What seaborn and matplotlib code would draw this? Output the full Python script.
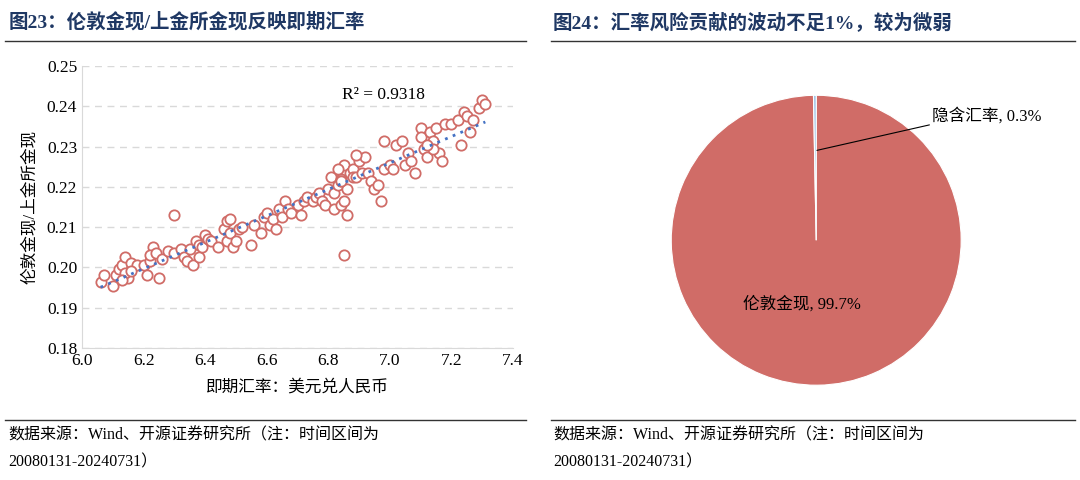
import numpy as np
import pandas as pd
import matplotlib
matplotlib.use("Agg")
import matplotlib.pyplot as plt
import seaborn as sns
from matplotlib.lines import Line2D

FONT = ["Liberation Serif", "Noto Sans CJK SC"]
plt.rcParams["font.family"] = FONT

# spot FX rate USD/CNY vs London gold / SGE gold ratio
fx = [6.06, 6.07, 6.10, 6.11, 6.12, 6.13, 6.14, 6.15, 6.14, 6.16, 6.18, 6.16, 6.13,
      6.20, 6.21, 6.22, 6.23, 6.22, 6.24, 6.25, 6.26, 6.28, 6.30, 6.30, 6.32, 6.33, 6.34,
      6.35, 6.36, 6.37, 6.38, 6.38, 6.39, 6.40, 6.41,
      6.42, 6.44, 6.46, 6.47, 6.47, 6.48, 6.48, 6.49, 6.50, 6.51, 6.52, 6.55, 6.56, 6.58,
      6.59, 6.60, 6.61, 6.62, 6.63, 6.64, 6.65,
      6.66, 6.67, 6.68, 6.70, 6.71, 6.72, 6.73, 6.75, 6.76, 6.77, 6.78, 6.79, 6.80, 6.81,
      6.82, 6.82, 6.83, 6.84, 6.84, 6.84, 6.85, 6.85, 6.86, 6.86, 6.87, 6.88, 6.85,
      6.83, 6.84, 6.88, 6.89, 6.90, 6.91, 6.92, 6.93, 6.94, 6.95, 6.96, 6.97, 6.98, 7.00,
      7.01, 7.02, 7.04, 7.05, 7.06, 7.07, 7.08, 6.89, 6.98,
      7.10, 7.10, 7.11, 7.12, 7.13, 7.14, 7.15, 7.16, 7.17, 7.18, 7.20, 7.22, 7.23, 7.24,
      7.25, 7.26, 7.27, 7.29, 7.30, 7.31, 7.14, 7.12]
ratio = [0.1965, 0.198, 0.1955, 0.198, 0.1995, 0.2005, 0.2025, 0.1975, 0.1985, 0.201, 0.2005, 0.199, 0.197,
         0.2005, 0.198, 0.2015, 0.205, 0.203, 0.2035, 0.1975, 0.202, 0.204, 0.213, 0.2035, 0.2045, 0.2025, 0.2015,
         0.2045, 0.2005, 0.2065, 0.2025, 0.2055, 0.205, 0.208, 0.207,
         0.2065, 0.205, 0.2095, 0.2115, 0.2065, 0.2085, 0.212, 0.205, 0.2065, 0.2095, 0.210, 0.2055, 0.2105, 0.2085,
         0.2125, 0.2135, 0.2105, 0.212, 0.2095, 0.2145, 0.2125,
         0.2165, 0.2145, 0.2135, 0.2155, 0.213, 0.2165, 0.2175, 0.2165, 0.2175, 0.2185, 0.2165, 0.2155, 0.2195, 0.2225,
         0.2145, 0.2185, 0.2205, 0.222, 0.2155, 0.2215, 0.2255, 0.203, 0.213, 0.2195, 0.2235, 0.2245, 0.2165,
         0.2245, 0.2215, 0.2225, 0.2225, 0.2265, 0.2235, 0.2275, 0.2235, 0.2215, 0.2195, 0.2205, 0.2165, 0.2245, 0.2255,
         0.2245, 0.2305, 0.2315, 0.2255, 0.2285, 0.2265, 0.2235, 0.228, 0.2315,
         0.2345, 0.2325, 0.2295, 0.2275, 0.2335, 0.2315, 0.2345, 0.2285, 0.2265, 0.2355, 0.2355, 0.2365, 0.2305, 0.2385,
         0.2375, 0.2335, 0.2365, 0.2395, 0.2415, 0.2405, 0.2295, 0.2305]
r2_text = "R² = 0.9318"

pie_labels = ["伦敦金现", "隐含汇率"]
pie_values = [99.7, 0.3]
pie_colors = ["#d06c67", "#9dc3e6"]

df = pd.DataFrame({"fx": fx, "ratio": ratio})

fig = plt.figure(figsize=(10.8, 4.8), dpi=100)
title_color = "#1f3864"

# titles and rules
fig.text(0.008, 0.975, "图23：伦敦金现/上金所金现反映即期汇率", fontsize=14, fontweight="bold",
         color=title_color, va="top")
fig.text(0.512, 0.975, "图24：汇率风险贡献的波动不足1%，较为微弱", fontsize=14, fontweight="bold",
         color=title_color, va="top")
for x0, x1 in [(0.005, 0.487), (0.51, 0.995)]:
    fig.add_artist(Line2D([x0, x1], [0.915, 0.915], color="#333333", lw=1))
    fig.add_artist(Line2D([x0, x1], [0.125, 0.125], color="#333333", lw=1))
src = "数据来源：Wind、开源证券研究所（注：时间区间为\n20080131-20240731）"
fig.text(0.008, 0.11, src, fontsize=11.5, va="top", linespacing=1.9)
fig.text(0.512, 0.11, src, fontsize=11.5, va="top", linespacing=1.9)

# scatter
ax = fig.add_axes([0.076, 0.275, 0.399, 0.5875])
sns.scatterplot(data=df, x="fx", y="ratio", ax=ax, s=55, facecolor="white",
                edgecolor="#d06c67", linewidth=1.3, zorder=3)
k, b = np.polyfit(df["fx"], df["ratio"], 1)
xs = np.array([df["fx"].min(), df["fx"].max()])
ax.plot(xs, k * xs + b, ls=(0, (1, 2)), color="#4472c4", lw=2, zorder=4)
ax.text(6.98, 0.2418, r2_text, fontsize=12.5, ha="center")
ax.set_xlim(6.0, 7.4)
ax.set_ylim(0.18, 0.25)
ax.set_xticks(np.arange(6.0, 7.41, 0.2))
ax.set_xticklabels([f"{v:.1f}" for v in np.arange(6.0, 7.41, 0.2)])
ax.set_yticks(np.arange(0.18, 0.2501, 0.01))
ax.set_yticklabels([f"{v:.2f}" for v in np.arange(0.18, 0.2501, 0.01)])
ax.tick_params(labelsize=12.5, length=0)
ax.grid(axis="y", ls=(0, (5, 4)), color="#d9d9d9", lw=1)
ax.set_axisbelow(True)
for s in ["top", "right"]:
    ax.spines[s].set_visible(False)
for s in ["left", "bottom"]:
    ax.spines[s].set_color("#d9d9d9")
ax.set_xlabel("即期汇率：美元兑人民币", fontsize=12, labelpad=8)
ax.set_ylabel("伦敦金现/上金所金现", fontsize=12, labelpad=6)

# pie
pax = fig.add_axes([0.6215, 0.1975, 0.2685, 0.604])
pax.pie(pie_values, colors=pie_colors, startangle=90, counterclock=False,
        wedgeprops=dict(edgecolor="white", linewidth=0.8))
pax.set_xlim(-1.0, 1.0)
pax.set_ylim(-1.0, 1.0)
pax.set_aspect("equal")
pax.text(-0.1, -0.47, f"{pie_labels[0]}, {pie_values[0]}%", fontsize=12, ha="center")
pax.annotate(f"{pie_labels[1]}, {pie_values[1]}%", xy=(0.005, 0.62), xytext=(0.8, 0.8),
             fontsize=12, ha="left", va="bottom",
             arrowprops=dict(arrowstyle="-", color="black", lw=0.8,
                             connectionstyle="arc3,rad=0", shrinkA=0, shrinkB=0,
                             relpos=(0, 0)))

fig.savefig("out.png", dpi=100)
